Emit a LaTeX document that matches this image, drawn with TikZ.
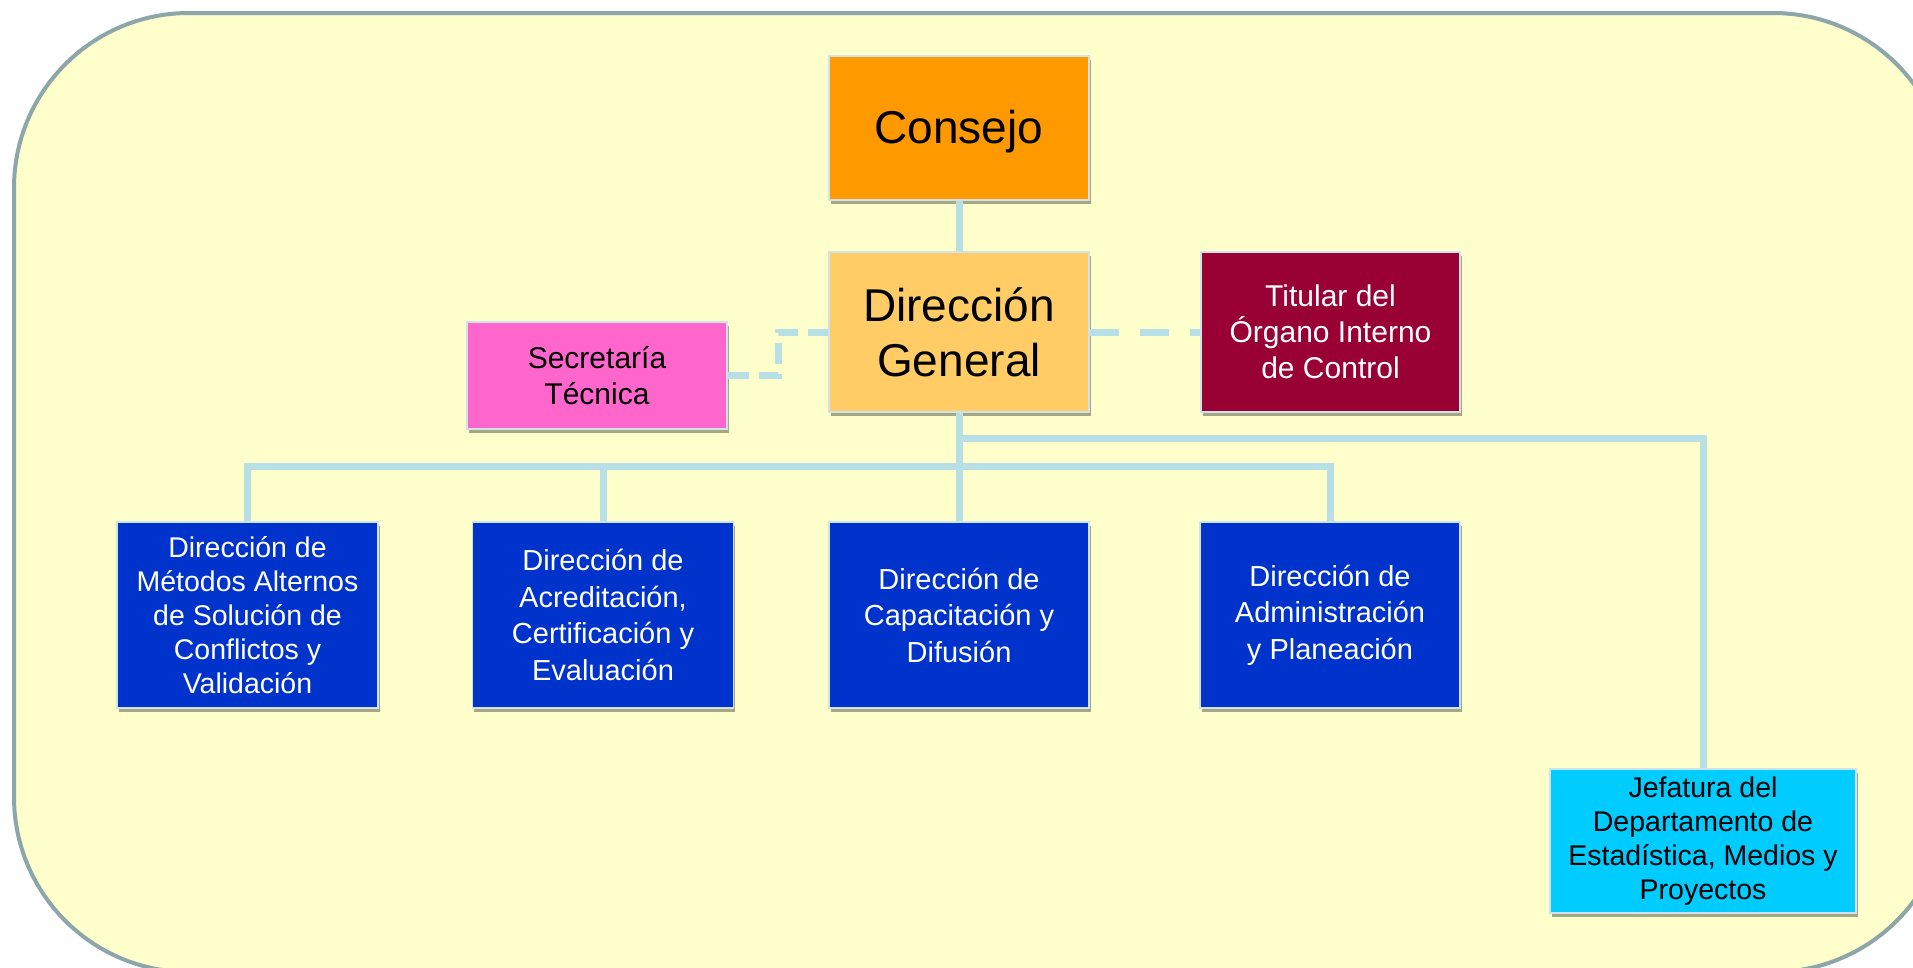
\documentclass[tikz,border=0pt]{standalone}
\usepackage{fontspec}
\setmainfont{Liberation Sans}
\usetikzlibrary{shadows}
\definecolor{bgfill}{HTML}{FFFFCC}
\definecolor{framecol}{HTML}{8CA6AA}
\definecolor{conn}{HTML}{B7DFE6}
\definecolor{boxline}{HTML}{CFE3EA}
\definecolor{consejocol}{HTML}{FF9900}
\definecolor{dgcol}{HTML}{FFCC66}
\definecolor{secrecol}{HTML}{FF66CC}
\definecolor{titcol}{HTML}{990033}
\definecolor{bluecol}{HTML}{0033CC}
\definecolor{jefcol}{HTML}{00CCFF}
\tikzset{
  orgbox/.style={draw=boxline, line width=1.5pt, align=center, inner sep=2pt,
    drop shadow={shadow xshift=1.5pt, shadow yshift=-3.5pt, fill=black, opacity=0.35}},
  bigtext/.style={font=\fontsize{46}{55}\selectfont},
  smalltext/.style={font=\fontsize{30}{36}\selectfont},
  bluetext/.style={font=\fontsize{29}{36.5}\selectfont},
  jeftext/.style={font=\fontsize{28.5}{34}\selectfont},
  link/.style={draw=conn, line width=7pt},
  dashlink/.style={draw=conn, line width=7pt, dash pattern=on 29pt off 21pt},
  dashlinkb/.style={draw=conn, line width=7pt, dash pattern=on 21pt off 10pt},
}
\begin{document}
\begin{tikzpicture}[x=1pt,y=-1pt]
\useasboundingbox (0,0) rectangle (1913,967);
\begin{scope}
\clip (0,0) rectangle (1913,967);
\draw[framecol, line width=4pt, fill=bgfill, rounded corners=175pt] (14,13) rectangle (1948,972);
\end{scope}

\node[orgbox, bigtext, fill=consejocol, minimum width=260pt, minimum height=144pt, text height=31pt, text depth=0pt] (consejo) at (959,128) {Consejo};
\node[orgbox, bigtext, fill=dgcol, minimum width=260pt, minimum height=160pt] (dg) at (959,332) {Dirección\\General};
\node[orgbox, smalltext, fill=secrecol, minimum width=260pt, minimum height=107pt] (secre) at (597,375.5) {Secretaría\\Técnica};
\node[orgbox, smalltext, fill=titcol, text=white, minimum width=259pt, minimum height=160pt] (titular) at (1330.5,332) {Titular del\\Órgano Interno\\de Control};

\node[orgbox, font=\fontsize{28.5}{34}\selectfont, fill=bluecol, text=white, minimum width=261pt, minimum height=186pt] (metodos) at (247.5,615) {Dirección de\\Métodos Alternos\\de Solución de\\Conflictos y\\Validación};
\node[orgbox, bluetext, fill=bluecol, text=white, minimum width=261pt, minimum height=186pt] (acred) at (603,615) {Dirección de\\Acreditación,\\Certificación y\\Evaluación};
\node[orgbox, bluetext, fill=bluecol, text=white, minimum width=260pt, minimum height=186pt] (capac) at (959,615) {Dirección de\\Capacitación y\\Difusión};
\node[orgbox, bluetext, fill=bluecol, text=white, minimum width=260pt, minimum height=186pt] (admin) at (1330,615) {Dirección de\\Administración\\y Planeación};
\node[orgbox, jeftext, fill=jefcol, minimum width=306pt, minimum height=144pt] (jef) at (1703,841) {Jefatura del\\Departamento de\\Estadística, Medios y\\Proyectos};

\coordinate (busL) at (247.5,466);
\coordinate (busR) at (1330,466);
\coordinate (jefR) at (1703,438);
\coordinate (jefL) at (959,438);
\coordinate (sbend1) at (778,375.5);
\coordinate (sbend2) at (778,332);

\draw[link] (consejo.south) -- (dg.north);
\draw[link] (dg.south) -- (capac.north);
\draw[link, line join=miter] (jefL) -- (jefR) -- (jef.north);
\draw[link, line join=miter] (metodos.north) -- (busL) -- (busR) -- (admin.north);
\draw[link] (acred.north) -- (acred.north |- busL);
\draw[dashlink] (dg.east) -- (titular.west);
\draw[dashlinkb] (secre.east) -- (sbend1) -- (sbend2) -- (dg.west);
\end{tikzpicture}
\end{document}
